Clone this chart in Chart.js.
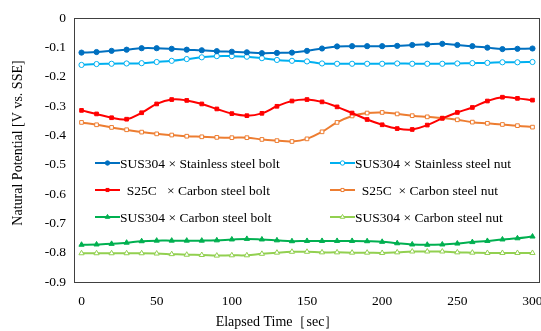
<!DOCTYPE html>
<html>
<head>
<meta charset="utf-8">
<script src="https://cdn.jsdelivr.net/npm/chart.js@4"></script>
<style>
  html, body { margin: 0; padding: 0; background: #fff; }
  #wrap { width: 541px; height: 331px; }
</style>
</head>
<body>
<div id="wrap"><canvas id="myChart" width="541" height="331"></canvas></div>
<script>
// elapsed time [sec]
let times = [0, 10, 20, 30, 40, 50, 60, 70, 80, 90, 100, 110, 120, 130, 140, 150,
             160, 170, 180, 190, 200, 210, 220, 230, 240, 250, 260, 270, 280, 290, 300];
let y_ticks = [0, -0.1, -0.2, -0.3, -0.4, -0.5, -0.6, -0.7, -0.8, -0.9];

let sus_ss_bolt = [-0.118, -0.116, -0.112, -0.108, -0.103, -0.103, -0.105, -0.108, -0.110, -0.113,
                   -0.115, -0.117, -0.120, -0.119, -0.118, -0.112, -0.104, -0.097, -0.096, -0.096,
                   -0.096, -0.095, -0.092, -0.090, -0.088, -0.092, -0.096, -0.101, -0.106, -0.105, -0.104];
let sus_ss_nut = [-0.160, -0.157, -0.156, -0.155, -0.154, -0.150, -0.146, -0.140, -0.134, -0.130,
                  -0.130, -0.132, -0.137, -0.143, -0.146, -0.148, -0.155, -0.156, -0.156, -0.156,
                  -0.156, -0.155, -0.156, -0.156, -0.156, -0.155, -0.154, -0.153, -0.151, -0.151, -0.150];
let s25c_cs_bolt = [-0.315, -0.327, -0.340, -0.345, -0.323, -0.293, -0.278, -0.281, -0.293, -0.310,
                    -0.326, -0.333, -0.325, -0.301, -0.283, -0.278, -0.286, -0.303, -0.324, -0.346,
                    -0.364, -0.377, -0.380, -0.365, -0.342, -0.322, -0.305, -0.283, -0.270, -0.274, -0.280];
let s25c_cs_nut = [-0.356, -0.364, -0.373, -0.381, -0.389, -0.395, -0.399, -0.403, -0.405, -0.407,
                   -0.408, -0.408, -0.414, -0.418, -0.421, -0.412, -0.388, -0.356, -0.334, -0.324,
                   -0.322, -0.327, -0.333, -0.337, -0.341, -0.347, -0.355, -0.359, -0.363, -0.367, -0.372];
let sus_cs_bolt = [-0.773, -0.772, -0.770, -0.766, -0.761, -0.759, -0.759, -0.759, -0.759, -0.758,
                   -0.755, -0.753, -0.755, -0.758, -0.761, -0.760, -0.760, -0.760, -0.760, -0.761,
                   -0.763, -0.768, -0.772, -0.773, -0.772, -0.769, -0.764, -0.760, -0.755, -0.751, -0.745];
let sus_cs_nut = [-0.802, -0.802, -0.802, -0.802, -0.802, -0.803, -0.805, -0.807, -0.808, -0.810,
                  -0.809, -0.809, -0.804, -0.800, -0.797, -0.797, -0.799, -0.799, -0.800, -0.800,
                  -0.801, -0.799, -0.796, -0.796, -0.796, -0.799, -0.800, -0.801, -0.801, -0.801, -0.801];

let series_labels = ["SUS304 \u00d7 Stainless steel bolt", "SUS304 \u00d7 Stainless steel nut",
                     "  S25C   \u00d7 Carbon steel bolt", "  S25C  \u00d7 Carbon steel nut",
                     "SUS304 \u00d7 Carbon steel bolt", "SUS304 \u00d7 Carbon steel nut"];
let x_title = 'Elapsed Time［sec］';
let y_title = 'Natural Potential [V vs. SSE]';

const SERIF = "'Liberation Serif', 'Times New Roman', serif";

function makeSet(label, data, color, style, hollow) {
      return {
            label: label,
            data: data,
            borderColor: color,
            backgroundColor: hollow ? '#ffffff' : color,
            pointBorderColor: color,
            pointBackgroundColor: hollow ? '#ffffff' : color,
            pointStyle: style,
            pointRadius: style === 'triangle' ? 3 : 2.6,
            pointBorderWidth: 1,
            borderWidth: 2,
            tension: 0.4,
            fill: false,
            clip: false
      };
}

// box round the plot area + axis titles (the x title sits left of centre in the original)
const frame = {
      id: 'frame',
      afterDatasetsDraw(chart) {
            const a = chart.chartArea;
            const c = chart.ctx;
            c.save();
            c.strokeStyle = '#404040';
            c.lineWidth = 1;
            c.strokeRect(a.left + 0.5, a.top + 0.5, a.right - a.left - 1, a.bottom - a.top);

            c.fillStyle = '#000';
            c.font = "14px " + SERIF;
            c.textAlign = 'center';
            c.textBaseline = 'middle';
            c.fillText(x_title, 277, 322);
            c.translate(18, 143);
            c.rotate(-Math.PI / 2);
            c.fillText(y_title, 0, 0);
            c.restore();
      }
};

// legend drawn inside the plot, two columns
const innerLegend = {
      id: 'innerLegend',
      afterDraw(chart) {
            const c = chart.ctx;
            const cols = [95, 330];
            const rows = [163, 190, 217];
            c.save();
            c.font = "13.5px " + SERIF;
            c.textBaseline = 'middle';
            chart.data.datasets.forEach((ds, i) => {
                  const x = cols[i % 2];
                  const y = rows[Math.floor(i / 2)];
                  c.strokeStyle = ds.borderColor;
                  c.lineWidth = 2;
                  c.beginPath();
                  c.moveTo(x, y);
                  c.lineTo(x + 25, y);
                  c.stroke();
                  c.fillStyle = ds.pointBackgroundColor;
                  c.strokeStyle = ds.pointBorderColor;
                  c.lineWidth = 1;
                  Chart.helpers.drawPoint(c, {
                        pointStyle: ds.pointStyle,
                        radius: ds.pointStyle === 'triangle' ? 2.6 : 2.2,
                        borderWidth: 1
                  }, x + 12.5, y);
                  c.fillStyle = '#000';
                  c.fillText(ds.label, x + 25, y + 1);
            });
            c.restore();
      }
};

let ctx = document.getElementById('myChart').getContext('2d');
let myChart = new Chart(ctx, {
      type: 'line',
      data: {
            labels: times,
            datasets: [
                  makeSet(series_labels[0], sus_ss_bolt, '#0070C0', 'circle', false),
                  makeSet(series_labels[1], sus_ss_nut, '#00B0F0', 'circle', true),
                  makeSet(series_labels[2], s25c_cs_bolt, '#FF0000', 'rect', false),
                  makeSet(series_labels[3], s25c_cs_nut, '#ED7D31', 'rect', true),
                  makeSet(series_labels[4], sus_cs_bolt, '#00B050', 'triangle', false),
                  makeSet(series_labels[5], sus_cs_nut, '#92D050', 'triangle', true)
            ]
      },
      options: {
            responsive: false,
            animation: false,
            layout: { autoPadding: false, padding: { top: 18, right: 1, left: 0, bottom: 0 } },
            plugins: { legend: { display: false }, tooltip: { enabled: false } },
            scales: {
                  x: {
                        type: 'category',
                        offset: true,
                        grid: { display: false, drawTicks: false },
                        border: { display: false },
                        ticks: {
                              autoSkip: false,
                              maxRotation: 0,
                              padding: 11,
                              color: '#000',
                              font: { family: SERIF, size: 13.5 },
                              callback: function (v, i) {
                                    const t = times[i];
                                    return t % 50 === 0 ? String(t) : '';
                              }
                        },
                        afterFit: (s) => { s.height = 49; s.paddingLeft = 0; s.paddingRight = 0; }
                  },
                  y: {
                        min: -0.9,
                        max: 0,
                        grid: { display: false, drawTicks: false },
                        border: { display: false },
                        afterBuildTicks: (s) => { s.ticks = y_ticks.map(v => ({ value: v })); },
                        ticks: {
                              padding: 8,
                              color: '#000',
                              font: { family: SERIF, size: 13.5 },
                              callback: (v) => (Math.round(v * 10) / 10).toString()
                        },
                        afterFit: (s) => { s.width = 74; s.paddingTop = 0; s.paddingBottom = 0; }
                  }
            }
      },
      plugins: [frame, innerLegend]
});
</script>
</body>
</html>
